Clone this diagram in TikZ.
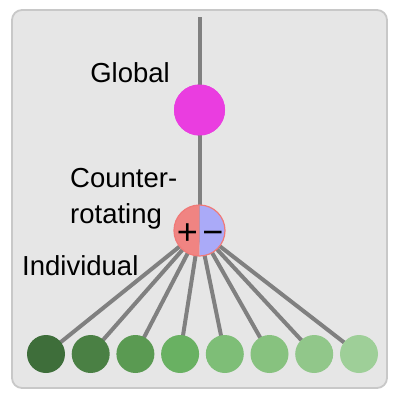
\documentclass[tikz,border=0pt]{standalone}
\usepackage{fontspec}
\setmainfont{Liberation Sans}
\begin{document}
\begin{tikzpicture}[x=1pt,y=-1pt,
  lbl/.style={inner sep=0pt,font=\fontsize{27.5}{30}\selectfont},
  sgn/.style={inner sep=0pt,font=\fontsize{36}{38}\selectfont},
  conn/.style={draw=linegray,line width=4pt},
  leaf/.style={circle,minimum size=38pt,inner sep=0pt}]
\definecolor{linegray}{HTML}{808080}
\definecolor{framefill}{HTML}{E6E6E6}
\definecolor{framedraw}{HTML}{C8C8C8}
\definecolor{glob}{HTML}{EA3DE0}
\definecolor{plusc}{HTML}{F08482}
\definecolor{minusc}{HTML}{AAAAF8}
\definecolor{ringc}{HTML}{F07A78}
\definecolor{g1}{HTML}{3E6E3A}
\definecolor{g2}{HTML}{4A8044}
\definecolor{g3}{HTML}{5A9A52}
\definecolor{g4}{HTML}{69B162}
\definecolor{g5}{HTML}{7EBE77}
\definecolor{g6}{HTML}{87C27F}
\definecolor{g7}{HTML}{91C78A}
\definecolor{g8}{HTML}{9ECF98}
\useasboundingbox (0,0) rectangle (400,400);
\draw[fill=framefill,draw=framedraw,line width=1.8pt,rounded corners=10pt] (12,10) rectangle (387,388);
% coordinates
\coordinate (top) at (199.5,17);
\node[circle,minimum size=51pt,inner sep=0pt] (cr) at (199.5,230.5) {};
\node[circle,minimum size=51pt,inner sep=0pt,fill=glob] (gl) at (199.5,110) {};
\foreach \i/\x in {1/46,2/90.7,3/135.4,4/180.1,5/224.8,6/269.5,7/314.2,8/359}{
  \node[leaf] (l\i) at (\x,354) {};
}
% connectors
\draw[conn] (top) -- (cr.center);
\foreach \i in {1,...,8}{\draw[conn] (cr.center) -- (l\i.center);}
% nodes on top
\fill[glob] (gl) circle (25.5);
\foreach \i in {1,...,8}{\fill[g\i] (l\i) circle (19);}
\begin{scope}
  \clip (170,200) rectangle (cr.center |- 0,260);
  \fill[plusc] (cr) circle (25.5);
\end{scope}
\begin{scope}
  \clip (cr.center |- 0,200) rectangle (230,260);
  \fill[minusc] (cr) circle (25.5);
\end{scope}
\draw[ringc,line width=1.2pt] (cr) circle (25.5);
\node[sgn,anchor=base] (plus) at (187.5,244) {+};
\node[sgn,anchor=base] (minus) at (213,244) {\textminus};
% labels
\node[lbl,anchor=base east] (glab) at (170,82) {Global};
\node[lbl,anchor=base west] (clab1) at (70,187) {Counter-};
\node[lbl,anchor=base west] (clab2) at (70,223) {rotating};
\node[lbl,anchor=base west] (ilab) at (22,275) {Individual};
\end{tikzpicture}
\end{document}
